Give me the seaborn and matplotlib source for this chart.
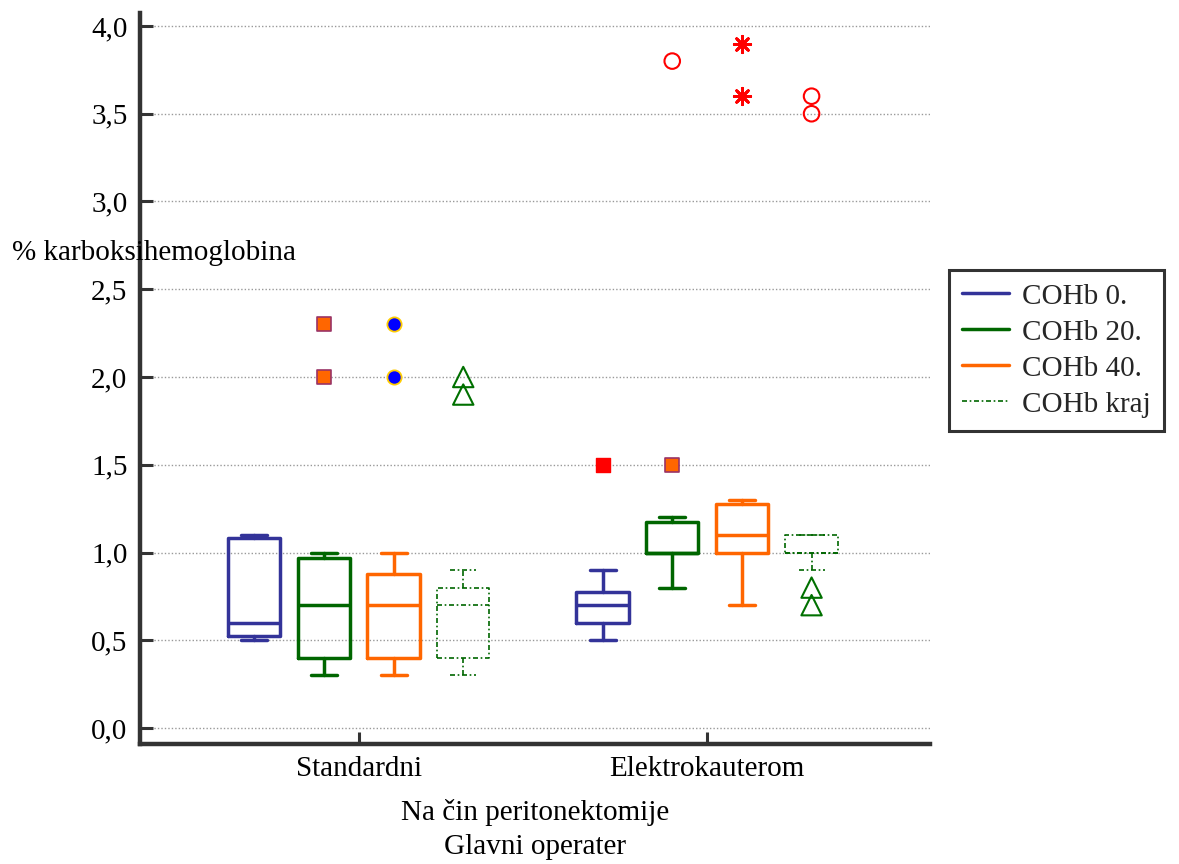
import numpy as np
import pandas as pd
import matplotlib
matplotlib.use("Agg")
import matplotlib.pyplot as plt
from matplotlib.lines import Line2D
import seaborn as sns

# ---------------- data ----------------
groups = ["Standardni", "Elektrokauterom"]
series = ["COHb 0.", "COHb 20.", "COHb 40.", "COHb kraj"]

# box statistics per series, ordered as groups
whislo = {"COHb 0.": [0.50, 0.50], "COHb 20.": [0.30, 0.80],
          "COHb 40.": [0.30, 0.70], "COHb kraj": [0.30, 0.90]}
q1 = {"COHb 0.": [0.525, 0.60], "COHb 20.": [0.40, 1.00],
      "COHb 40.": [0.40, 1.00], "COHb kraj": [0.40, 1.00]}
med = {"COHb 0.": [0.60, 0.70], "COHb 20.": [0.70, 1.00],
       "COHb 40.": [0.70, 1.10], "COHb kraj": [0.70, 1.00]}
q3 = {"COHb 0.": [1.08, 0.775], "COHb 20.": [0.97, 1.175],
      "COHb 40.": [0.88, 1.275], "COHb kraj": [0.80, 1.10]}
whishi = {"COHb 0.": [1.10, 0.90], "COHb 20.": [1.00, 1.20],
          "COHb 40.": [1.00, 1.30], "COHb kraj": [0.90, 1.10]}

# outliers / extremes
out_group = ["Standardni", "Standardni", "Standardni", "Standardni", "Standardni", "Standardni",
             "Elektrokauterom", "Elektrokauterom", "Elektrokauterom", "Elektrokauterom",
             "Elektrokauterom", "Elektrokauterom", "Elektrokauterom", "Elektrokauterom",
             "Elektrokauterom"]
out_series = ["COHb 20.", "COHb 20.", "COHb 40.", "COHb 40.", "COHb kraj", "COHb kraj",
              "COHb 0.", "COHb 20.", "COHb 20.", "COHb 40.", "COHb 40.",
              "COHb kraj", "COHb kraj", "COHb kraj", "COHb kraj"]
out_value = [2.3, 2.0, 2.3, 2.0, 2.0, 1.9,
             1.5, 1.5, 3.8, 3.9, 3.6, 3.6, 3.5, 0.8, 0.7]
out_kind = ["sq_orange", "sq_orange", "circ_blue", "circ_blue", "tri_green", "tri_green",
            "sq_red", "sq_orange", "circ_red", "ast_red", "ast_red",
            "circ_red", "circ_red", "tri_green", "tri_green"]

yticks = [0.0, 0.5, 1.0, 1.5, 2.0, 2.5, 3.0, 3.5, 4.0]
ytick_labels = ["0,0", "0,5", "1,0", "1,5", "2,0", "2,5", "3,0", "3,5", "4,0"]

# ---------------- style ----------------
sns.set_theme(style="white")
plt.rcParams["font.family"] = ["Liberation Serif", "DejaVu Serif"]
FS = 21

colors = {"COHb 0.": "#333399", "COHb 20.": "#006600",
          "COHb 40.": "#FF6600", "COHb kraj": "#006600"}
dashdot = (0, (3, 1.6, 1, 1.6))
lstyles = {"COHb 0.": "-", "COHb 20.": "-", "COHb 40.": "-", "COHb kraj": dashdot}
lwidths = {"COHb 0.": 2.5, "COHb 20.": 2.5, "COHb 40.": 2.5, "COHb kraj": 1.2}

marker_styles = {
    "sq_orange": dict(marker="s", s=100, facecolor="#FF6600", edgecolor="#993366", linewidth=1.2),
    "circ_blue": dict(marker="o", s=105, facecolor="#0000FF", edgecolor="#FFCC00", linewidth=1.3),
    "tri_green": dict(marker="^", s=215, facecolor="none", edgecolor="#007000", linewidth=1.5),
    "sq_red": dict(marker="s", s=100, facecolor="#FF0000", edgecolor="#FF0000", linewidth=1.0),
    "circ_red": dict(marker="o", s=125, facecolor="none", edgecolor="#FF0000", linewidth=1.5),
    "ast_red": dict(marker=(8, 2, 0), s=140, facecolor="#FF0000", edgecolor="#FF0000", linewidth=2.0),
}

fig = plt.figure(figsize=(11.79, 8.64), dpi=100)
ax = fig.add_axes([140 / 1179, 1 - 744 / 864, (930 - 140) / 1179, (744 - 13) / 864])

dodge = 0.2
box_w = 0.15

for si, s in enumerate(series):
    stats = []
    for gi, g in enumerate(groups):
        stats.append(dict(whislo=whislo[s][gi], q1=q1[s][gi], med=med[s][gi],
                          q3=q3[s][gi], whishi=whishi[s][gi], fliers=[]))
    pos = [gi + (si - 1.5) * dodge for gi in range(len(groups))]
    lp = dict(color=colors[s], linewidth=lwidths[s], linestyle=lstyles[s])
    ax.bxp(stats, positions=pos, widths=box_w, showfliers=False,
           boxprops=lp, whiskerprops=lp, capprops=lp, medianprops=lp,
           manage_ticks=False, zorder=3)

odf = pd.DataFrame({"group": out_group, "series": out_series,
                    "value": out_value, "kind": out_kind})
odf["x"] = odf["group"].map({g: i for i, g in enumerate(groups)}) + \
    (odf["series"].map({s: i for i, s in enumerate(series)}) - 1.5) * dodge

for kind, sub in odf.groupby("kind"):
    st = marker_styles[kind]
    sns.scatterplot(data=sub, x="x", y="value", ax=ax, legend=False, zorder=4,
                    marker=st["marker"], s=st["s"], fc=st["facecolor"],
                    ec=st["edgecolor"], linewidth=st["linewidth"])

# axes formatting
ax.set_xlim(-0.628, 1.64)
ax.set_ylim(-0.091, 4.074)
ax.set_xticks(range(len(groups)))
ax.set_xticklabels(groups, fontsize=FS)
ax.set_yticks(yticks)
ax.set_yticklabels(ytick_labels, fontsize=FS)
ax.yaxis.grid(True, color="#999999", linestyle=(0, (1, 1.5)), linewidth=1.0, zorder=0)
ax.xaxis.grid(False)
ax.set_axisbelow(True)
for sp in ["top", "right"]:
    ax.spines[sp].set_visible(False)
for sp in ["left", "bottom"]:
    ax.spines[sp].set_linewidth(3.2)
    ax.spines[sp].set_color("#333333")
ax.tick_params(axis="both", direction="in", length=9, width=2.2, color="#333333",
               labelcolor="black", pad=9)
ax.tick_params(axis="y", left=True)
ax.tick_params(axis="x", bottom=True)
ax.set_xlabel("Na čin peritonektomije\nGlavni operater", fontsize=FS, labelpad=12,
              color="black", linespacing=1.4)
ax.set_ylabel("")

fig.text(12 / 1179, 1 - 253 / 864, "% karboksihemoglobina", fontsize=FS,
         ha="left", va="center", color="black", zorder=5)

handles = [Line2D([0], [0], color=colors[s], linestyle=lstyles[s], linewidth=lwidths[s])
           for s in series]
leg = fig.legend(handles, series, loc="upper left",
                 bbox_to_anchor=(949 / 1179, 1 - 270 / 864),
                 fontsize=FS, frameon=True, fancybox=False, framealpha=1,
                 edgecolor="#333333", borderpad=0.45, handlelength=1.6,
                 handletextpad=0.45, labelspacing=0.33, borderaxespad=0)
leg.get_frame().set_linewidth(2.2)

fig.savefig("out.png", dpi=100)
